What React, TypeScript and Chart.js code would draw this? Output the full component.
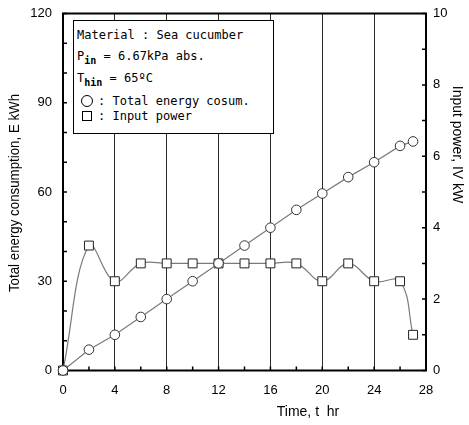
import React, { useEffect, useRef } from "react";
import { Chart, registerables } from "chart.js";

Chart.register(...registerables);

// ---- data ----
const timeHr = [0, 2, 4, 6, 8, 10, 12, 14, 16, 18, 20, 22, 24, 26, 27];
const energyKWh = [0, 7, 12, 18, 24, 30, 36, 42, 48, 54, 59.5, 65, 70, 75.5, 77];
const powerKW = [0, 3.5, 2.5, 3, 3, 3, 3, 3, 3, 3, 2.5, 3, 2.5, 2.5, 1];

const xTitle = "Time, t  hr";
const yLeftTitle = "Total energy consumption, E kWh";
const yRightTitle = "Input power, IV kW";

const FONT = "'Liberation Sans', Arial, sans-serif";

const framePlugin = {
  id: "frameTicks",
  beforeDatasetsDraw(chart: any) {
    const { ctx, chartArea: a, scales } = chart;
    ctx.save();
    ctx.strokeStyle = "#000";
    ctx.lineWidth = 2;
    ctx.strokeRect(a.left, a.top, a.right - a.left, a.bottom - a.top);
    ctx.lineWidth = 1.5;
    const L = 4;
    ctx.beginPath();
    scales.x.ticks.forEach((t: any) => {
      const px = scales.x.getPixelForValue(t.value);
      ctx.moveTo(px, a.bottom);
      ctx.lineTo(px, a.bottom - L);
    });
    scales.y.ticks.forEach((t: any) => {
      const py = scales.y.getPixelForValue(t.value);
      ctx.moveTo(a.left, py);
      ctx.lineTo(a.left + L, py);
    });
    scales.y1.ticks.forEach((t: any) => {
      const py = scales.y1.getPixelForValue(t.value);
      ctx.moveTo(a.right, py);
      ctx.lineTo(a.right - L, py);
    });
    ctx.stroke();
    ctx.restore();
  },
  afterDraw(chart: any) {
    const { ctx, chartArea: a } = chart;
    ctx.save();
    ctx.fillStyle = "#000";
    ctx.font = `14px ${FONT}`;
    ctx.textAlign = "center";
    ctx.textBaseline = "middle";
    // x title
    ctx.fillText(xTitle, a.left + (a.right - a.left) * 0.675, a.bottom + 42);
    // left title
    ctx.save();
    ctx.translate(15, (a.top + a.bottom) / 2 + 1);
    ctx.rotate(-Math.PI / 2);
    ctx.scale(0.95, 1);
    ctx.fillText(yLeftTitle, 0, 0);
    ctx.restore();
    // right title
    ctx.save();
    ctx.translate(a.right + 31, a.top + 131);
    ctx.rotate(Math.PI / 2);
    ctx.fillText(yRightTitle, 0, 0);
    ctx.restore();
    ctx.restore();
  },
};

export default function App() {
  const ref = useRef<HTMLCanvasElement | null>(null);

  useEffect(() => {
    if (!ref.current) return;
    Chart.defaults.font.family = FONT;
    Chart.defaults.color = "#000";
    const chart = new Chart(ref.current, {
      type: "line",
      data: {
        datasets: [
          {
            label: "Total energy consumption",
            data: timeHr.map((t, i) => ({ x: t, y: energyKWh[i] })),
            yAxisID: "y",
            borderColor: "#7a7a7a",
            borderWidth: 1.2,
            tension: 0,
            pointStyle: "circle",
            pointRadius: 4.8,
            pointBackgroundColor: "#fff",
            pointBorderColor: "#333",
            pointBorderWidth: 1,
            clip: false as any,
          },
          {
            label: "Input power",
            data: timeHr.map((t, i) => ({ x: t, y: powerKW[i] })),
            yAxisID: "y1",
            borderColor: "#7a7a7a",
            borderWidth: 1.2,
            tension: 0.4,
            pointStyle: "rect",
            pointRadius: 6.3,
            pointBackgroundColor: "#fff",
            pointBorderColor: "#222",
            pointBorderWidth: 1,
            clip: false as any,
          },
        ],
      },
      options: {
        animation: false,
        responsive: false,
        maintainAspectRatio: false,
        layout: { padding: { top: 13.5, left: 0, right: 0, bottom: 0 } },
        plugins: {
          legend: { display: false },
          tooltip: { enabled: false },
        },
        scales: {
          x: {
            type: "linear",
            min: 0,
            max: 28,
            ticks: {
              stepSize: 2,
              autoSkip: false,
              maxRotation: 0,
              padding: 12,
              font: { size: 13 },
              color: "#000",
              callback: (v: any) => (Number(v) % 4 === 0 ? String(v) : ""),
            },
            grid: {
              drawTicks: false,
              lineWidth: 1,
              color: (c: any) => {
                const v = c.tick ? c.tick.value : -1;
                return v % 4 === 0 && v > 0 && v < 28 ? "#2a2a2a" : "rgba(0,0,0,0)";
              },
            },
            border: { display: false },
            afterFit: (s: any) => {
              s.height = 54.5;
              s.paddingLeft = 0;
              s.paddingRight = 0;
            },
          },
          y: {
            type: "linear",
            position: "left",
            min: 0,
            max: 120,
            ticks: {
              stepSize: 10,
              autoSkip: false,
              padding: 11,
              font: { size: 13 },
              color: "#000",
              callback: (v: any) => (Number(v) % 30 === 0 ? String(v) : ""),
            },
            grid: { display: false, drawTicks: false },
            border: { display: false },
            afterFit: (s: any) => {
              s.width = 63;
              s.paddingTop = 0;
              s.paddingBottom = 0;
            },
          },
          y1: {
            type: "linear",
            position: "right",
            min: 0,
            max: 10,
            ticks: {
              stepSize: 1,
              autoSkip: false,
              padding: 7,
              font: { size: 13 },
              color: "#000",
              callback: (v: any) => (Number(v) % 2 === 0 ? String(v) : ""),
            },
            grid: { display: false, drawTicks: false },
            border: { display: false },
            afterFit: (s: any) => {
              s.width = 43;
              s.paddingTop = 0;
              s.paddingBottom = 0;
            },
          },
        },
      },
      plugins: [framePlugin],
    });
    return () => chart.destroy();
  }, []);

  const mono = "'DejaVu Sans Mono', 'Liberation Mono', monospace";
  const lineStyle = (top: number, left: number): React.CSSProperties => ({
    position: "absolute",
    left,
    top,
    height: 16,
    lineHeight: "16px",
    fontFamily: mono,
    fontSize: 12,
    color: "#000",
    whiteSpace: "pre",
  });
  const sub: React.CSSProperties = {
    fontSize: 10,
    fontWeight: "bold",
    position: "relative",
    top: 4,
  };

  return (
    <div style={{ position: "fixed", left: 0, top: 0, width: 469, height: 425, background: "#fff" }}>
      <canvas ref={ref} width={469} height={425} style={{ display: "block", width: 469, height: 425 }} />
      <div
        style={{
          position: "absolute",
          left: 73,
          top: 19.5,
          width: 199,
          height: 112,
          border: "1px solid #000",
          background: "#fff",
        }}
      />
      <div style={lineStyle(27, 77)}>Material : Sea cucumber</div>
      <div style={lineStyle(48, 77)}>
        P<span style={sub}>in</span> = 6.67kPa abs.
      </div>
      <div style={lineStyle(70, 77)}>
        T<span style={sub}>hin</span> = 65ºC
      </div>
      <div
        style={{
          position: "absolute",
          left: 81,
          top: 95,
          width: 10,
          height: 10,
          border: "1.3px solid #000",
          borderRadius: "50%",
        }}
      />
      <div style={lineStyle(93, 98)}>: Total energy cosum.</div>
      <div
        style={{
          position: "absolute",
          left: 82,
          top: 111,
          width: 8,
          height: 8,
          border: "1.3px solid #000",
        }}
      />
      <div style={lineStyle(108, 98)}>: Input power</div>
    </div>
  );
}
